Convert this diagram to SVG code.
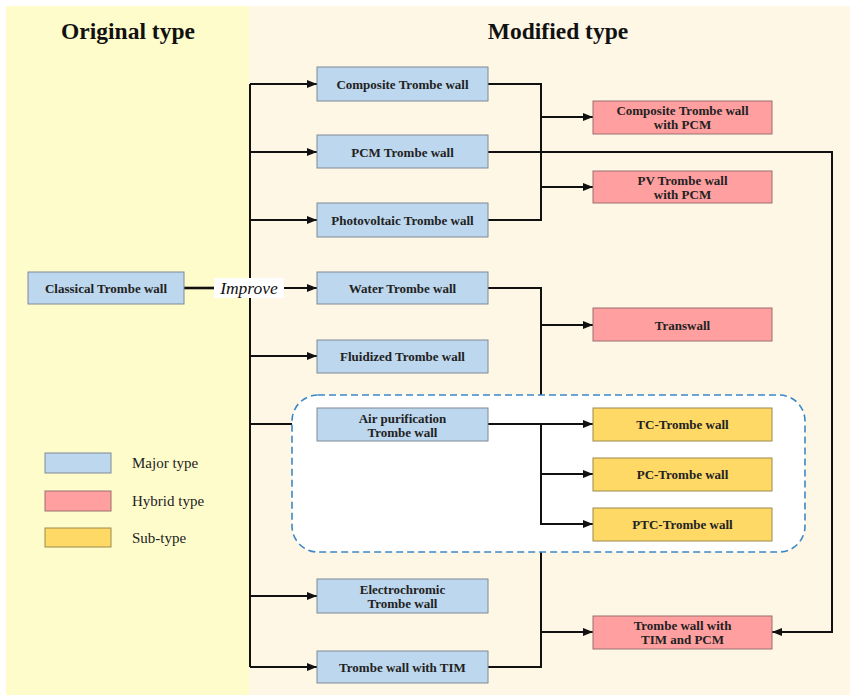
<svg xmlns="http://www.w3.org/2000/svg" width="856" height="695" viewBox="0 0 856 695">
<defs>
<style>
.t{font-family:"Liberation Serif","Times New Roman",serif;font-weight:bold;font-size:13px;fill:#222;text-anchor:middle}
.h{font-family:"Liberation Serif","Times New Roman",serif;font-weight:bold;font-size:23.5px;fill:#111;text-anchor:middle}
.lg{font-family:"Liberation Serif","Times New Roman",serif;font-size:15px;fill:#222}
.major{fill:#BDD7EE;stroke:#7E8A96;stroke-width:1}
.hybrid{fill:#FF9F9F;stroke:#9A6E6E;stroke-width:1}
.sub{fill:#FFD966;stroke:#9C8A4E;stroke-width:1}
.c{fill:none;stroke:#111;stroke-width:2}
</style>
<marker id="ah" viewBox="0 0 10 8" refX="10" refY="4" markerWidth="10" markerHeight="8" markerUnits="userSpaceOnUse" orient="auto">
<path d="M0,0 L10,4 L0,8 z" fill="#111"/>
</marker>
</defs>
<rect x="0" y="0" width="856" height="695" fill="#ffffff"/>
<rect x="6" y="6" width="243" height="689" fill="#FFFCCC"/>
<rect x="249" y="6" width="601" height="689" fill="#FEF7E6"/>
<text class="h" x="128" y="39">Original type</text>
<text class="h" x="558" y="39">Modified type</text>

<g id="connectors">
<path class="c" d="M250,84 V667"/>
<path class="c" d="M184,288 H214" style="stroke-width:2.6"/>
<path class="c" d="M284,288 H317" marker-end="url(#ah)"/>
<path class="c" d="M250,84 H317" marker-end="url(#ah)"/>
<path class="c" d="M250,152 H317" marker-end="url(#ah)"/>
<path class="c" d="M250,220 H317" marker-end="url(#ah)"/>
<path class="c" d="M250,356 H317" marker-end="url(#ah)"/>
<path class="c" d="M250,424 H317" marker-end="url(#ah)"/>
<path class="c" d="M250,596 H317" marker-end="url(#ah)"/>
<path class="c" d="M250,667 H317" marker-end="url(#ah)"/>
<path class="c" d="M488,84 H541 V220 H488"/>
<path class="c" d="M541,117 H593" marker-end="url(#ah)"/>
<path class="c" d="M541,187 H593" marker-end="url(#ah)"/>
<path class="c" d="M488,152 H832 V632 H772" marker-end="url(#ah)"/>
<path class="c" d="M488,288 H541 V667 H488"/>
<path class="c" d="M541,325 H593" marker-end="url(#ah)"/>
<path class="c" d="M541,632 H593" marker-end="url(#ah)"/>
</g>

<g id="group-air">
<rect x="292" y="395" width="513" height="157" rx="26" ry="26" fill="#ffffff" stroke="#3C88C6" stroke-width="1.6" stroke-dasharray="7,4"/>
<path class="c" d="M488,424 H593" marker-end="url(#ah)"/>
<path class="c" d="M541,424 V524 H593" marker-end="url(#ah)"/>
<path class="c" d="M541,474 H593" marker-end="url(#ah)"/>
</g>

<g id="improve-label">
<rect x="214" y="278" width="70" height="20" fill="#ffffff"/>
<text x="249" y="294" style="font-family:'Liberation Serif','Times New Roman',serif;font-style:italic;font-size:17.5px;fill:#111;text-anchor:middle">Improve</text>
</g>

<g id="classical"><rect class="major" x="28" y="272" width="156" height="32"/><text class="t" x="106" y="293">Classical Trombe wall</text></g>
<g id="composite"><rect class="major" x="317" y="67" width="171" height="34"/><text class="t" x="402.5" y="89">Composite Trombe wall</text></g>
<g id="pcm"><rect class="major" x="317" y="135" width="171" height="33"/><text class="t" x="402.5" y="157">PCM Trombe wall</text></g>
<g id="photovoltaic"><rect class="major" x="317" y="203" width="171" height="34"/><text class="t" x="402.5" y="225">Photovoltaic Trombe wall</text></g>
<g id="water"><rect class="major" x="317" y="272" width="171" height="32"/><text class="t" x="402.5" y="293">Water Trombe wall</text></g>
<g id="fluidized"><rect class="major" x="317" y="340" width="171" height="33"/><text class="t" x="402.5" y="361">Fluidized Trombe wall</text></g>
<g id="air"><rect class="major" x="317" y="408" width="171" height="33"/><text class="t" x="402.5" y="423">Air purification</text><text class="t" x="402.5" y="437">Trombe wall</text></g>
<g id="electrochromic"><rect class="major" x="317" y="579" width="171" height="34"/><text class="t" x="402.5" y="594">Electrochromic</text><text class="t" x="402.5" y="608">Trombe wall</text></g>
<g id="tim"><rect class="major" x="317" y="651" width="171" height="32"/><text class="t" x="402.5" y="672">Trombe wall with TIM</text></g>

<g id="composite-pcm"><rect class="hybrid" x="593" y="101" width="179" height="33"/><text class="t" x="682.5" y="115">Composite Trombe wall</text><text class="t" x="682.5" y="129">with PCM</text></g>
<g id="pv-pcm"><rect class="hybrid" x="593" y="171" width="179" height="32"/><text class="t" x="682.5" y="184.5">PV Trombe wall</text><text class="t" x="682.5" y="198.5">with PCM</text></g>
<g id="transwall"><rect class="hybrid" x="593" y="308" width="179" height="33"/><text class="t" x="682.5" y="330">Transwall</text></g>
<g id="tim-pcm"><rect class="hybrid" x="593" y="616" width="179" height="33"/><text class="t" x="682.5" y="630">Trombe wall with</text><text class="t" x="682.5" y="644">TIM and PCM</text></g>

<g id="tc"><rect class="sub" x="593" y="408" width="179" height="33"/><text class="t" x="682.5" y="429">TC-Trombe wall</text></g>
<g id="pc"><rect class="sub" x="593" y="458" width="179" height="33"/><text class="t" x="682.5" y="479">PC-Trombe wall</text></g>
<g id="ptc"><rect class="sub" x="593" y="508" width="179" height="33"/><text class="t" x="682.5" y="529">PTC-Trombe wall</text></g>

<g id="legend">
<rect class="major" x="45" y="453" width="66" height="20"/><text class="lg" x="132" y="468">Major type</text>
<rect class="hybrid" x="45" y="491" width="66" height="20"/><text class="lg" x="132" y="506">Hybrid type</text>
<rect class="sub" x="45" y="528" width="66" height="19"/><text class="lg" x="132" y="543">Sub-type</text>
</g>
</svg>
